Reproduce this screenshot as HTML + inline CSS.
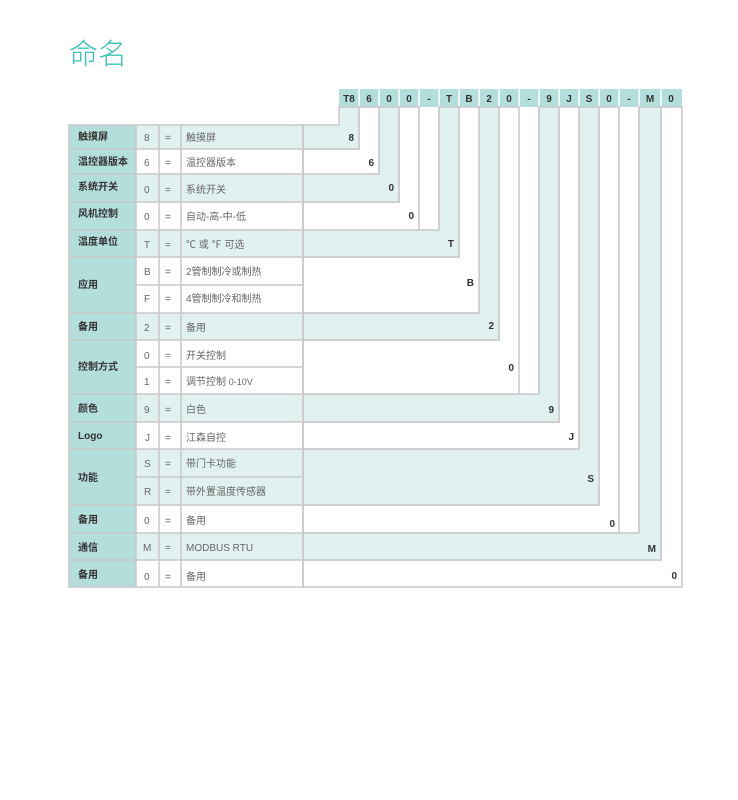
<!DOCTYPE html>
<html><head><meta charset="utf-8"><style>
html,body{margin:0;padding:0;background:#fff;width:738px;height:800px;overflow:hidden}
svg{display:block}
text{font-family:"Liberation Sans","Noto Sans CJK SC",sans-serif}
.b{font-weight:bold;fill:#333;font-size:10px}
.g{fill:#666;font-size:10px}
</style></head><body>
<svg width="738" height="800" viewBox="0 0 738 800" xmlns="http://www.w3.org/2000/svg">
<text x="69" y="64" font-size="29" fill="#3cc3b6" style="font-family:'Noto Sans CJK SC',sans-serif;font-weight:300">命名</text>

<!-- header -->
<rect x="339" y="89" width="343" height="18" fill="#b3dedb"/>
<g stroke="#fff" stroke-width="1.5">
<line x1="359" y1="89" x2="359" y2="107"/><line x1="379" y1="89" x2="379" y2="107"/><line x1="399" y1="89" x2="399" y2="107"/><line x1="419" y1="89" x2="419" y2="107"/><line x1="439" y1="89" x2="439" y2="107"/><line x1="459" y1="89" x2="459" y2="107"/><line x1="479" y1="89" x2="479" y2="107"/><line x1="499" y1="89" x2="499" y2="107"/><line x1="519" y1="89" x2="519" y2="107"/><line x1="539" y1="89" x2="539" y2="107"/><line x1="559" y1="89" x2="559" y2="107"/><line x1="579" y1="89" x2="579" y2="107"/><line x1="599" y1="89" x2="599" y2="107"/><line x1="619" y1="89" x2="619" y2="107"/><line x1="639" y1="89" x2="639" y2="107"/><line x1="661" y1="89" x2="661" y2="107"/>
</g>
<g class="b" text-anchor="middle">
<text x="349" y="102" class="b">T8</text><text x="369" y="102" class="b">6</text><text x="389" y="102" class="b">0</text><text x="409" y="102" class="b">0</text><text x="429" y="102" class="b">-</text><text x="449" y="102" class="b">T</text><text x="469" y="102" class="b">B</text><text x="489" y="102" class="b">2</text><text x="509" y="102" class="b">0</text><text x="529" y="102" class="b">-</text><text x="549" y="102" class="b">9</text><text x="569" y="102" class="b">J</text><text x="589" y="102" class="b">S</text><text x="609" y="102" class="b">0</text><text x="629" y="102" class="b">-</text><text x="650" y="102" class="b">M</text><text x="671" y="102" class="b">0</text>
</g>

<!-- dash column lines -->
<g stroke="#c8c8c8" stroke-width="1.5" fill="none">
<line x1="439" y1="107" x2="439" y2="230"/>
<line x1="539" y1="107" x2="539" y2="394"/>
<line x1="639" y1="107" x2="639" y2="533"/>
</g>

<!-- L shapes -->
<g stroke="#c8c8c8" stroke-width="1.5">
<polygon fill="#fff" points="303,560 661,560 661,107 682,107 682,587 303,587"/>
<polygon fill="#e0f1ef" points="303,533 639,533 639,107 661,107 661,560 303,560"/>
<polygon fill="#fff" points="303,505 599,505 599,107 619,107 619,533 303,533"/>
<polygon fill="#e0f1ef" points="303,449 579,449 579,107 599,107 599,505 303,505"/>
<polygon fill="#fff" points="303,422 559,422 559,107 579,107 579,449 303,449"/>
<polygon fill="#e0f1ef" points="303,394 539,394 539,107 559,107 559,422 303,422"/>
<polygon fill="#fff" points="303,340 499,340 499,107 519,107 519,394 303,394"/>
<polygon fill="#e0f1ef" points="303,313 479,313 479,107 499,107 499,340 303,340"/>
<polygon fill="#fff" points="303,257 459,257 459,107 479,107 479,313 303,313"/>
<polygon fill="#e0f1ef" points="303,230 439,230 439,107 459,107 459,257 303,257"/>
<polygon fill="#fff" points="303,202 399,202 399,107 419,107 419,230 303,230"/>
<polygon fill="#e0f1ef" points="303,174 379,174 379,107 399,107 399,202 303,202"/>
<polygon fill="#fff" points="303,149 359,149 359,107 379,107 379,174 303,174"/>
<polygon fill="#e0f1ef" points="303,125 339,125 339,107 359,107 359,149 303,149"/>
</g>
<g class="b" text-anchor="end">
<text x="354" y="141" class="b">8</text>
<text x="374" y="166" class="b">6</text>
<text x="394" y="191" class="b">0</text>
<text x="414" y="219" class="b">0</text>
<text x="454" y="247" class="b">T</text>
<text x="474" y="286" class="b">B</text>
<text x="494" y="329" class="b">2</text>
<text x="514" y="371" class="b">0</text>
<text x="554" y="413" class="b">9</text>
<text x="574" y="440" class="b">J</text>
<text x="594" y="482" class="b">S</text>
<text x="615" y="527" class="b">0</text>
<text x="656" y="552" class="b">M</text>
<text x="677" y="579" class="b">0</text>
</g>

<!-- left table backgrounds -->
<g>
<rect x="136" y="125" width="167" height="24" fill="#e0f1ef"/>
<rect x="136" y="174" width="167" height="28" fill="#e0f1ef"/>
<rect x="136" y="230" width="167" height="27" fill="#e0f1ef"/>
<rect x="136" y="313" width="167" height="27" fill="#e0f1ef"/>
<rect x="136" y="394" width="167" height="28" fill="#e0f1ef"/>
<rect x="136" y="449" width="167" height="56" fill="#e0f1ef"/>
<rect x="136" y="533" width="167" height="27" fill="#e0f1ef"/>
<rect x="69" y="125" width="67" height="462" fill="#b3dedb"/>
</g>
<g stroke="#c8c8c8" stroke-width="1.5" fill="none">
<rect x="69" y="125" width="234" height="462"/>
<line x1="136" y1="125" x2="136" y2="587"/>
<line x1="159" y1="125" x2="159" y2="587"/>
<line x1="181" y1="125" x2="181" y2="587"/>
<line x1="303" y1="125" x2="303" y2="587"/>
<line x1="69" y1="149" x2="303" y2="149"/>
<line x1="69" y1="174" x2="303" y2="174"/>
<line x1="69" y1="202" x2="303" y2="202"/>
<line x1="69" y1="230" x2="303" y2="230"/>
<line x1="69" y1="257" x2="303" y2="257"/>
<line x1="136" y1="285" x2="303" y2="285"/>
<line x1="69" y1="313" x2="303" y2="313"/>
<line x1="69" y1="340" x2="303" y2="340"/>
<line x1="136" y1="367" x2="303" y2="367"/>
<line x1="69" y1="394" x2="303" y2="394"/>
<line x1="69" y1="422" x2="303" y2="422"/>
<line x1="69" y1="449" x2="303" y2="449"/>
<line x1="136" y1="477" x2="303" y2="477"/>
<line x1="69" y1="505" x2="303" y2="505"/>
<line x1="69" y1="533" x2="303" y2="533"/>
<line x1="69" y1="560" x2="303" y2="560"/>
</g>

<!-- labels -->
<g class="b">
<text x="78" y="140" class="b">触摸屏</text>
<text x="78" y="165" class="b">温控器版本</text>
<text x="78" y="190" class="b">系统开关</text>
<text x="78" y="217" class="b">风机控制</text>
<text x="78" y="245" class="b">温度单位</text>
<text x="78" y="288" class="b">应用</text>
<text x="78" y="330" class="b">备用</text>
<text x="78" y="370" class="b">控制方式</text>
<text x="78" y="412" class="b">颜色</text>
<text x="78" y="439" class="b">Logo</text>
<text x="78" y="481" class="b">功能</text>
<text x="78" y="523" class="b">备用</text>
<text x="78" y="551" class="b">通信</text>
<text x="78" y="578" class="b">备用</text>
</g>
<g class="g">
<text x="144" y="141" class="g">8</text><text x="165" y="141" class="g">=</text><text x="186" y="141" class="g">触摸屏</text>
<text x="144" y="166" class="g">6</text><text x="165" y="166" class="g">=</text><text x="186" y="166" class="g">温控器版本</text>
<text x="144" y="193" class="g">0</text><text x="165" y="193" class="g">=</text><text x="186" y="193" class="g">系统开关</text>
<text x="144" y="220" class="g">0</text><text x="165" y="220" class="g">=</text><text x="186" y="220" class="g">自动-高-中-低</text>
<text x="144" y="248" class="g">T</text><text x="165" y="248" class="g">=</text><text x="186" y="248" class="g">℃ 或 ℉ 可选</text>
<text x="144" y="275" class="g">B</text><text x="165" y="275" class="g">=</text><text x="186" y="275" class="g">2管制制冷或制热</text>
<text x="144" y="302" class="g">F</text><text x="165" y="302" class="g">=</text><text x="186" y="302" class="g">4管制制冷和制热</text>
<text x="144" y="331" class="g">2</text><text x="165" y="331" class="g">=</text><text x="186" y="331" class="g">备用</text>
<text x="144" y="359" class="g">0</text><text x="165" y="359" class="g">=</text><text x="186" y="359" class="g">开关控制</text>
<text x="144" y="385" class="g">1</text><text x="165" y="385" class="g">=</text><text x="186" y="385" class="g">调节控制 <tspan font-size="9">0-10V</tspan></text>
<text x="144" y="413" class="g">9</text><text x="165" y="413" class="g">=</text><text x="186" y="413" class="g">白色</text>
<text x="145" y="441" class="g">J</text><text x="165" y="441" class="g">=</text><text x="186" y="441" class="g">江森自控</text>
<text x="144" y="467" class="g">S</text><text x="165" y="467" class="g">=</text><text x="186" y="467" class="g">带门卡功能</text>
<text x="144" y="495" class="g">R</text><text x="165" y="495" class="g">=</text><text x="186" y="495" class="g">带外置温度传感器</text>
<text x="144" y="524" class="g">0</text><text x="165" y="524" class="g">=</text><text x="186" y="524" class="g">备用</text>
<text x="143" y="551" class="g">M</text><text x="165" y="551" class="g">=</text><text x="186" y="551" class="g">MODBUS RTU</text>
<text x="144" y="580" class="g">0</text><text x="165" y="580" class="g">=</text><text x="186" y="580" class="g">备用</text>
</g>
</svg>
</body></html>
